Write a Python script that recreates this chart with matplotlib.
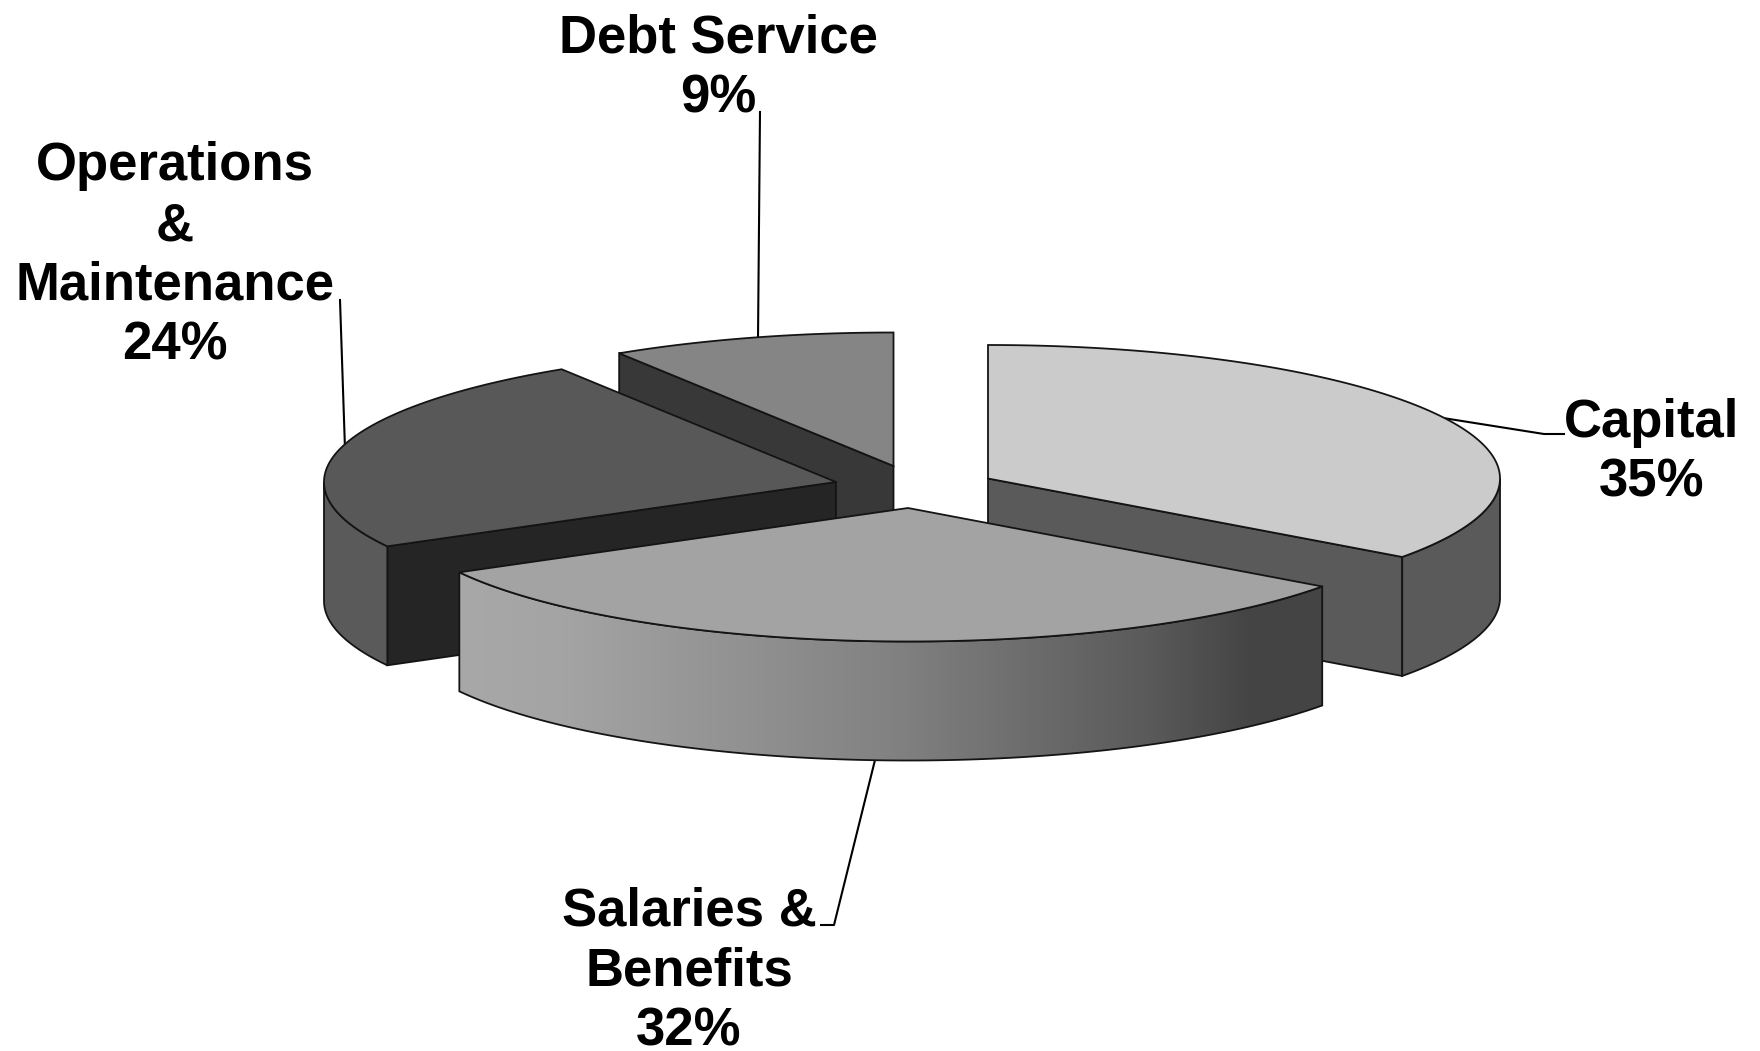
import numpy as np
import matplotlib
matplotlib.use("Agg")
import matplotlib.pyplot as plt
from matplotlib.colors import LinearSegmentedColormap
from matplotlib.patches import Polygon

# Budget shares, clockwise from 12 o'clock
categories = ["Capital", "Salaries &\nBenefits", "Operations\n&\nMaintenance", "Debt Service"]
shares = [35, 32, 24, 9]

top_colors = ["#cbcbcb", "#a3a3a3", "#585858", "#858585"]
wall_colors = ["#5a5a5a", None, "#252525", "#383838"]
side_colors = ["#5a5a5a", None, "#5a5a5a", None]

# Exploded slice apex in pixels
apex_x = [988, 908, 836, 893.5]
apex_y = [478.5, 508, 482, 466]

RX = 512
RY = 133.5
DEPTH = 119
EDGE = "#141414"

label_x = [1652, 689, 175, 718]
label_y = [452.5, 971.5, 256, 68.5]

leader_x = [[1443, 1544, 1564], [875, 834, 821], [340, 345], [760, 758]]
leader_y = [[418, 434, 434], [760, 925, 925], [300, 449], [112, 339]]

fade_colors = ["#a8a8a8", "#a4a4a4", "#828282", "#5a5a5a", "#444444", "#444444"]
fade_stops = [0.0, 0.12, 0.5, 0.8, 0.92, 1.0]


def rim(cx, cy, start, end, n=160):
    theta = np.radians(np.linspace(start, end, n))
    return cx + RX * np.sin(theta), cy - RY * np.cos(theta)


def draw_slice(ax, i, start, end, z):
    cx, cy = apex_x[i], apex_y[i]

    # radial wall on the slice's visible cut face
    if wall_colors[i]:
        cut = end if i == 0 else start
        ex, ey = rim(cx, cy, cut, cut, 1)
        pts = [(cx, cy), (ex[0], ey[0]), (ex[0], ey[0] + DEPTH), (cx, cy + DEPTH)]
        ax.add_patch(Polygon(pts, fc=wall_colors[i], ec=EDGE, lw=1.3, zorder=z))

    # outer wall only shows on the front half of the ellipse
    lo, hi = max(start, 90), min(end, 270)
    if lo < hi:
        xs, ys = rim(cx, cy, lo, hi)
        pts = np.r_[np.c_[xs, ys], np.c_[xs[::-1], ys[::-1] + DEPTH]]
        if side_colors[i]:
            ax.add_patch(Polygon(pts, fc=side_colors[i], ec=EDGE, lw=1.3, zorder=z + 0.1))
        else:
            poly = Polygon(pts, fc="none", ec=EDGE, lw=1.3, zorder=z + 0.2)
            ax.add_patch(poly)
            cmap = LinearSegmentedColormap.from_list("front", list(zip(fade_stops, fade_colors)))
            grad = np.linspace(0, 1, 512)[None, :]
            img = ax.imshow(grad, cmap=cmap, aspect="auto", zorder=z + 0.1,
                            extent=(xs.min(), xs.max(), ys.max() + DEPTH, ys.min()))
            img.set_clip_path(poly)

    xs, ys = rim(cx, cy, start, end)
    pts = np.r_[[(cx, cy)], np.c_[xs, ys]]
    ax.add_patch(Polygon(pts, fc=top_colors[i], ec=EDGE, lw=1.3, zorder=z + 0.3))


fig = plt.figure(figsize=(17.6, 10.51), dpi=100)
ax = fig.add_axes([0, 0, 1, 1])

for i in range(4):
    ax.plot(leader_x[i], leader_y[i], color="black", lw=1.5, zorder=0.5)

edges = np.r_[0, np.cumsum(shares)] * 3.6
# back slices first so the front one overlaps them
for z, i in enumerate([3, 2, 0, 1], start=1):
    draw_slice(ax, i, edges[i], edges[i + 1], z)

for i, name in enumerate(categories):
    ax.text(label_x[i], label_y[i], f"{name}\n{shares[i]}%", ha="center", va="center",
            family=["Liberation Sans", "DejaVu Sans"], weight="bold", fontsize=38,
            linespacing=1.25, color="black", zorder=10)

ax.set_xlim(0, 1760)
ax.set_ylim(1051, 0)
ax.axis("off")

fig.savefig("out.png", dpi=100, facecolor="white")
